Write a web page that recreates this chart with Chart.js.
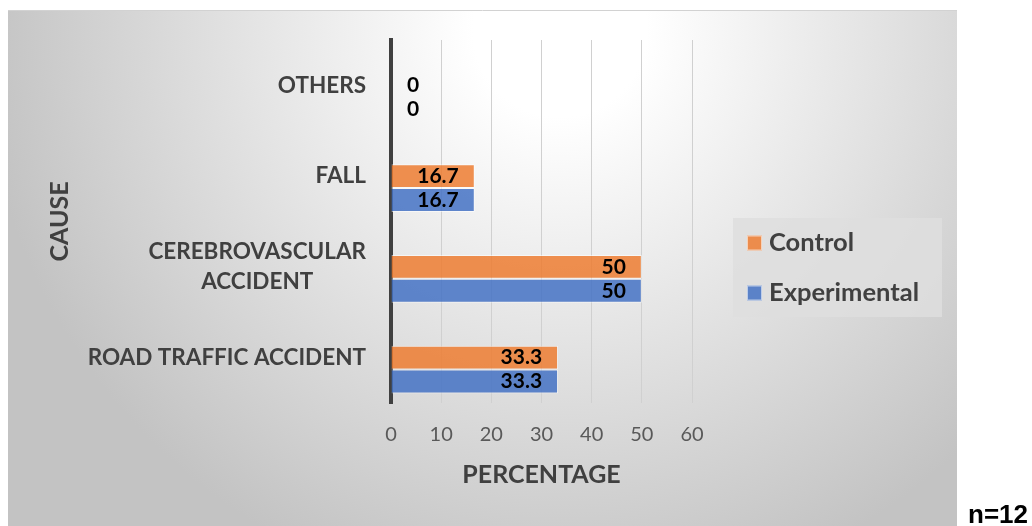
<!DOCTYPE html>
<html>
<head>
<meta charset="utf-8">
<script src="https://cdn.jsdelivr.net/npm/chart.js@4.4.1/dist/chart.umd.min.js"></script>
<style>
  html, body { margin: 0; padding: 0; background: #ffffff; }
  #wrap { position: relative; width: 1032px; height: 526px; }
</style>
</head>
<body>
<div id="wrap"><canvas id="c" width="1032" height="526"></canvas></div>
<script>
// Causes, top to bottom
const categories = ['OTHERS', 'FALL', ['CEREBROVASCULAR', 'ACCIDENT'], 'ROAD TRAFFIC ACCIDENT'];
// Percentages per group
const controlValues = [0, 16.7, 50, 33.3];
const experimentalValues = [0, 16.7, 50, 33.3];
// Unused third series slot kept from the source workbook (no values)
const blankValues = [null, null, null, null];
// Percentage axis ticks
const xTicks = [0, 10, 20, 30, 40, 50, 60];
const sampleNote = 'n=12';

const TEXT = '#404040';
const FONT = 'Lato';

// Chart frame with soft radial shading
const framePlugin = {
  id: 'frame',
  beforeDraw(chart) {
    const ctx = chart.ctx;
    ctx.save();
    const g = ctx.createRadialGradient(560, 30, 0, 560, 30, 580);
    g.addColorStop(0, '#ffffff');
    g.addColorStop(0.15, '#ffffff');
    g.addColorStop(1, '#c3c3c3');
    ctx.fillStyle = g;
    ctx.fillRect(8, 10, 949, 516);
    ctx.strokeStyle = '#d2d2d2';
    ctx.lineWidth = 1;
    ctx.beginPath();
    ctx.moveTo(8, 10.5);
    ctx.lineTo(957, 10.5);
    ctx.stroke();
    ctx.restore();
  },
  afterDraw(chart) {
    const ctx = chart.ctx;
    ctx.save();
    ctx.fillStyle = '#000000';
    ctx.font = 'bold 26px "Liberation Sans", Arial, sans-serif';
    ctx.textAlign = 'left';
    ctx.textBaseline = 'alphabetic';
    ctx.fillText(sampleNote, 968, 523);
    ctx.restore();
  }
};

// Category names: single lines right-aligned, wrapped names centred on their widest line
const categoryLabelPlugin = {
  id: 'categoryLabels',
  afterDraw(chart) {
    const ctx = chart.ctx;
    const y = chart.scales.y;
    const right = chart.chartArea.left - 25;
    ctx.save();
    ctx.font = 'bold 22.5px ' + FONT;
    ctx.fillStyle = TEXT;
    ctx.textBaseline = 'middle';
    chart.data.labels.forEach((lab, i) => {
      const yc = y.getPixelForValue(i);
      if (Array.isArray(lab)) {
        const widest = Math.max(...lab.map(t => ctx.measureText(t).width));
        const cx = right - widest / 2;
        ctx.textAlign = 'center';
        lab.forEach((t, k) => ctx.fillText(t, cx, yc + (k - (lab.length - 1) / 2) * 30));
      } else {
        ctx.textAlign = 'right';
        ctx.fillText(lab, right, yc);
      }
    });
    ctx.restore();
  }
};

// Value labels inside the bar end (zero values sit just right of the axis)
const valueLabelPlugin = {
  id: 'valueLabels',
  afterDraw(chart) {
    const ctx = chart.ctx;
    ctx.save();
    ctx.font = 'bold 21px ' + FONT;
    ctx.fillStyle = '#000000';
    ctx.textBaseline = 'middle';
    chart.data.datasets.forEach((ds, di) => {
      if (!ds.showValues) return;
      const meta = chart.getDatasetMeta(di);
      meta.data.forEach((bar, i) => {
        const v = ds.data[i];
        if (v === null || v === undefined) return;
        const text = String(v);
        if (v === 0) {
          ctx.textAlign = 'left';
          ctx.fillText(text, bar.base + 16, bar.y);
        } else {
          ctx.textAlign = 'right';
          ctx.fillText(text, bar.x - 16, bar.y);
        }
      });
    });
    ctx.restore();
  }
};

// Boxed legend to the right of the plot
const legendBoxPlugin = {
  id: 'legendBox',
  afterDraw(chart) {
    const ctx = chart.ctx;
    ctx.save();
    ctx.fillStyle = 'rgba(222,222,222,0.85)';
    ctx.fillRect(733, 218, 209, 99);
    const items = chart.data.datasets.filter(d => d.label);
    ctx.font = 'bold 25.5px ' + FONT;
    ctx.textAlign = 'left';
    ctx.textBaseline = 'middle';
    items.forEach((d, k) => {
      const yc = 243 + k * 50;
      ctx.fillStyle = d.backgroundColor;
      ctx.fillRect(747, yc - 7.5, 15, 15);
      ctx.strokeStyle = 'rgba(255,255,255,0.6)';
      ctx.lineWidth = 1;
      ctx.strokeRect(747.5, yc - 7, 14, 14);
      ctx.fillStyle = TEXT;
      ctx.fillText(d.label, 769, yc);
    });
    ctx.restore();
  }
};

function build() {
  Chart.defaults.font.family = FONT;
  new Chart(document.getElementById('c'), {
    type: 'bar',
    data: {
      labels: categories,
      datasets: [
        { label: '', data: blankValues, backgroundColor: 'rgba(0,0,0,0)' },
        {
          label: 'Control', data: controlValues, showValues: true,
          backgroundColor: 'rgba(237,125,49,0.85)',
          borderColor: 'rgba(255,255,255,0.55)', borderWidth: 1
        },
        {
          label: 'Experimental', data: experimentalValues, showValues: true,
          backgroundColor: 'rgba(68,114,196,0.85)',
          borderColor: 'rgba(255,255,255,0.55)', borderWidth: 1
        }
      ]
    },
    options: {
      indexAxis: 'y',
      responsive: false,
      animation: false,
      categoryPercentage: 0.79,
      barPercentage: 1,
      layout: { padding: { left: 0, top: 40, right: 340, bottom: 0 } },
      plugins: { legend: { display: false }, tooltip: { enabled: false } },
      scales: {
        x: {
          type: 'linear',
          min: 0, max: 60,
          afterBuildTicks(s) { s.ticks = xTicks.map(v => ({ value: v })); },
          grid: {
            color: c => (c.tick && c.tick.value === 0) ? 'rgba(0,0,0,0)' : '#d0d0d0',
            lineWidth: 1,
            drawTicks: false
          },
          border: { display: false },
          ticks: { color: '#595959', font: { size: 20 }, padding: 20 },
          title: {
            display: true, text: 'PERCENTAGE', color: TEXT,
            font: { size: 25, weight: 'bold' },
            padding: { top: 0, bottom: 36 }
          },
          afterFit(s) { s.height = 123; }
        },
        y: {
          z: 1,
          grid: { display: false, drawTicks: false },
          border: { display: true, color: '#404040', width: 4 },
          ticks: { display: false },
          title: {
            display: true, text: 'CAUSE', color: TEXT,
            font: { size: 25, weight: 'bold' },
            padding: { top: 45, bottom: 0 }
          },
          afterFit(s) { s.width = 391; }
        }
      }
    },
    plugins: [framePlugin, categoryLabelPlugin, valueLabelPlugin, legendBoxPlugin]
  });
}

Promise.all([
  document.fonts.load('bold 22px Lato'),
  document.fonts.load('20px Lato'),
  document.fonts.load('bold 25px "Liberation Sans"')
]).then(build, build);
</script>
</body>
</html>
